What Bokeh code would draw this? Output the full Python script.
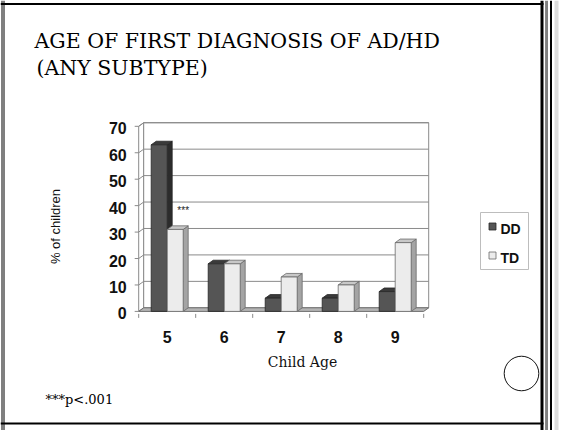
from math import pi
from bokeh.plotting import figure
from bokeh.models import Range1d
from bokeh.core.properties import value
from bokeh.embed import file_html
from bokeh.resources import INLINE

# ---------------- data ----------------
ages = ["5", "6", "7", "8", "9"]
dd = [63, 18, 5, 5, 7.5]
td = [31, 18, 13, 10, 26]
series_names = ["DD", "TD"]
y_ticks = [0, 10, 20, 30, 40, 50, 60, 70]
y_tick_labels = [str(t) for t in y_ticks]
title_lines = ["AGE OF FIRST DIAGNOSIS OF AD/HD", "(ANY SUBTYPE)"]
x_title = "Child Age"
y_title = "% of children"
footnote = "***p<.001"
sig_mark = "***"

# ---------------- geometry / style ----------------
W, H = 567, 430
PX_PER_CAT = 57.0
PX_PER_UNIT = 2.644
X0_PX = 166.7   # canvas x of first category centre
Y0_PX = 310.9   # canvas y (from top) of value 0 on the front plane

BAR_W = 16.0 / PX_PER_CAT
DX = 5.0 / PX_PER_CAT
DY = 3.6 / PX_PER_UNIT
Y_MAX = y_ticks[-1]
LEFT = -0.5
RIGHT = len(ages) - 0.5

DD_COL = dict(front="#555555", top="#3a3a3a", side="#2c2c2c", line="#262626")
TD_COL = dict(front="#ececec", top="#c8c8c8", side="#a4a4a4", line="#6a6a6a")
GRID = "#8a8a8a"
SANS = value("Liberation Sans")
SERIF = value("DejaVu Serif")

p = figure(width=W, height=H,
           x_range=Range1d(-X0_PX / PX_PER_CAT, (W - X0_PX) / PX_PER_CAT),
           y_range=Range1d(-(H - Y0_PX) / PX_PER_UNIT, Y0_PX / PX_PER_UNIT),
           x_axis_type=None, y_axis_type=None,
           toolbar_location=None, output_backend="svg", min_border=0,
           outline_line_color=None, background_fill_color="white",
           border_fill_color="white")
p.extra_x_ranges = {"px": Range1d(0, W)}
p.extra_y_ranges = {"px": Range1d(H, 0)}
PXR = dict(x_range_name="px", y_range_name="px")

# ---------------- walls and floor ----------------
p.patch([LEFT, LEFT, LEFT + DX, LEFT + DX], [0, Y_MAX, Y_MAX + DY, DY],
        fill_color="white", line_color=GRID, line_width=1)
p.patch([LEFT + DX, RIGHT + DX, RIGHT + DX, LEFT + DX],
        [DY, DY, Y_MAX + DY, Y_MAX + DY],
        fill_color="white", line_color=GRID, line_width=1)
g = y_ticks[1:]
p.segment(x0=[LEFT + DX] * len(g), y0=[t + DY for t in g],
          x1=[RIGHT + DX] * len(g), y1=[t + DY for t in g],
          line_color=GRID, line_width=1)
p.segment(x0=[LEFT] * len(g), y0=g, x1=[LEFT + DX] * len(g),
          y1=[t + DY for t in g], line_color=GRID, line_width=1)
p.patch([LEFT, RIGHT, RIGHT + DX, LEFT + DX], [0, 0, DY, DY],
        fill_color="#b4b4b4", line_color="#6e6e6e", line_width=1)

# axis ticks
tick_len = 4.0 / PX_PER_CAT
p.segment(x0=[LEFT - tick_len] * len(y_ticks), y0=y_ticks,
          x1=[LEFT] * len(y_ticks), y1=y_ticks, line_color=GRID, line_width=1)
bounds = [LEFT + i for i in range(len(ages) + 1)]
p.segment(x0=bounds, y0=[-2.5 / PX_PER_UNIT] * len(bounds),
          x1=bounds, y1=[-6.5 / PX_PER_UNIT] * len(bounds),
          line_color=GRID, line_width=1)

# ---------------- 3D bars ----------------
def draw_series(vals, x_shift, col):
    fx, fy, tx, ty, sx, sy = [], [], [], [], [], []
    for i, v in enumerate(vals):
        x0 = i + x_shift
        x1 = x0 + BAR_W
        fx.append([x0, x1, x1, x0]); fy.append([0, 0, v, v])
        tx.append([x0, x1, x1 + DX, x0 + DX]); ty.append([v, v, v + DY, v + DY])
        sx.append([x1, x1 + DX, x1 + DX, x1]); sy.append([0, DY, v + DY, v])
    p.patches(sx, sy, fill_color=col["side"], line_color=col["line"], line_width=0.8)
    p.patches(tx, ty, fill_color=col["top"], line_color=col["line"], line_width=0.8)
    p.patches(fx, fy, fill_color=col["front"], line_color=col["line"], line_width=0.8)

draw_series(dd, -BAR_W, DD_COL)
draw_series(td, 0.0, TD_COL)

# significance mark
p.text(x=[0], y=[td[0]], text=[sig_mark], x_offset=16, y_offset=-19,
       text_align="center", text_baseline="middle", text_font=SANS,
       text_font_size="10px", text_color="#222222")

# ---------------- axis labels ----------------
p.text(x=[LEFT] * len(y_ticks), y=y_ticks, text=y_tick_labels,
       x_offset=-12, y_offset=2, text_align="right", text_baseline="middle",
       text_font=SANS, text_font_style="bold", text_font_size="16px",
       text_color="#111111")
p.text(x=list(range(len(ages))), y=[0] * len(ages), text=ages, y_offset=26,
       text_align="center", text_baseline="middle", text_font=SANS,
       text_font_style="bold", text_font_size="16px", text_color="#111111")

p.text(x=[55], y=[226], text=[y_title], angle=pi / 2, text_align="center",
       text_baseline="middle", text_font=SANS, text_font_size="13px",
       text_color="#111111", **PXR)
p.text(x=[302], y=[361], text=[x_title], text_align="center",
       text_baseline="middle", text_font=SERIF, text_font_size="14px",
       text_color="#111111", **PXR)

# ---------------- title and footnote ----------------
p.text(x=[34, 36], y=[40, 67], text=title_lines, text_align="left",
       text_baseline="alphabetic", text_font=SERIF, text_font_size="20.5px",
       text_color="#000000", **PXR)
p.text(x=[45], y=[399], text=[footnote], text_align="left",
       text_baseline="alphabetic", text_font=SERIF, text_font_size="13px",
       text_color="#000000", **PXR)

# ---------------- legend ----------------
p.quad(left=[480], right=[528], top=[212], bottom=[269], fill_color="white",
       line_color="#bdbdbd", line_width=1, **PXR)
p.rect(x=[492, 492], y=[226, 255], width=7, height=7,
       fill_color=[DD_COL["front"], TD_COL["front"]],
       line_color=[DD_COL["line"], TD_COL["line"]], line_width=0.8, **PXR)
p.text(x=[500, 500], y=[228, 257], text=series_names, text_align="left",
       text_baseline="middle", text_font=SANS, text_font_style="bold",
       text_font_size="14px", text_color="#111111", **PXR)

# ---------------- slide decoration ----------------
p.circle(x=[521], y=[373], radius=17.3, fill_color="white",
         line_color="#111111", line_width=1, **PXR)
p.segment(x0=[1.5, 3.5], y0=[0, 0], x1=[1.5, 3.5], y1=[H, H],
          line_color="black", line_width=1, **PXR)
p.segment(x0=[0, 0], y0=[3.5, 423], x1=[543, 543], y1=[3.5, 423],
          line_color="black", line_width=2, **PXR)
p.segment(x0=[541.5, 545, 546.5, 550.5], y0=[0] * 4,
          x1=[541.5, 545, 546.5, 550.5], y1=[H] * 4,
          line_color=["black", "#888888", "black", "black"],
          line_width=[3, 1, 1, 2], **PXR)
p.segment(x0=[556], y0=[0], x1=[556], y1=[H], line_color="#dcdcdc",
          line_width=4, **PXR)

open("out.html", "w").write(file_html(p, INLINE))
